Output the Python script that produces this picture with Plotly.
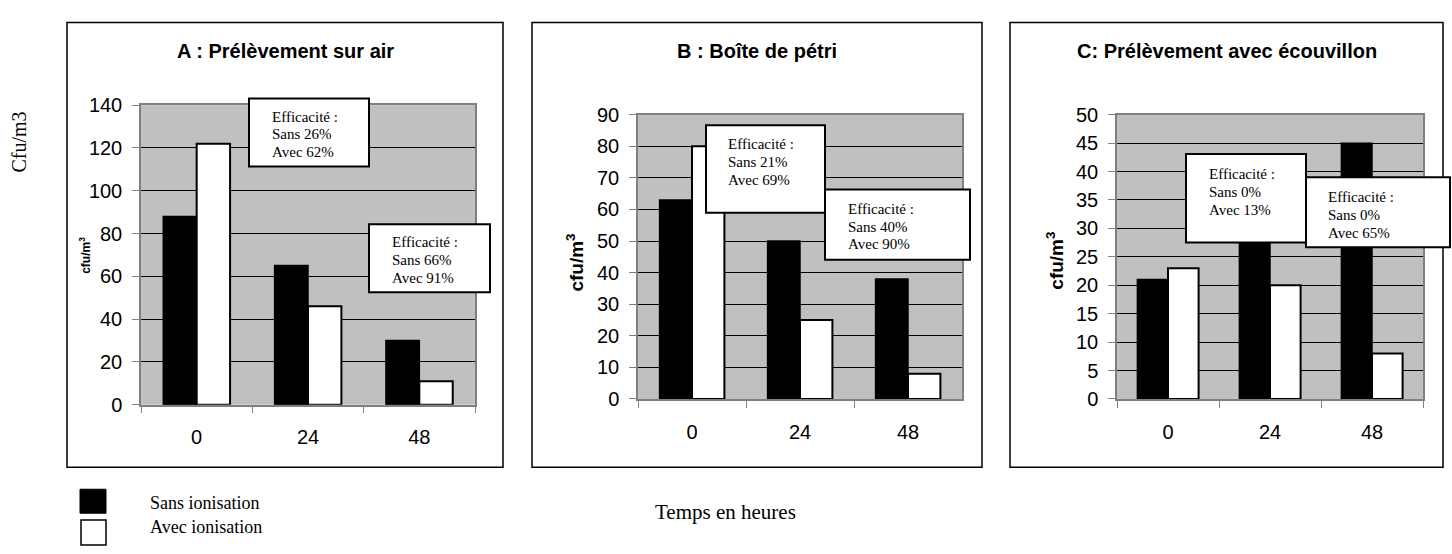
import plotly.graph_objects as go

W, H = 1452, 554

# ---- data ----
hours = ["0", "24", "48"]
titles = ["A : Prélèvement sur air", "B : Boîte de pétri", "C: Prélèvement avec écouvillon"]
sans_A = [88, 65, 30]
avec_A = [122, 46, 11]
sans_B = [63, 50, 38]
avec_B = [80, 25, 8]
sans_C = [21, 30, 45]
avec_C = [23, 20, 8]
y_max = [140, 90, 50]
y_step = [20, 10, 5]
box_texts = [
    ["Efficacité :", "Sans 26%", "Avec 62%"],
    ["Efficacité :", "Sans 66%", "Avec 91%"],
    ["Efficacité :", "Sans 21%", "Avec 69%"],
    ["Efficacité :", "Sans 40%", "Avec 90%"],
    ["Efficacité :", "Sans 0%", "Avec 13%"],
    ["Efficacité :", "Sans 0%", "Avec 65%"],
]
legend_labels = ["Sans ionisation", "Avec ionisation"]

SANS = "Liberation Sans, Arial, sans-serif"
SERIF = "Liberation Serif, Times New Roman, serif"

def px(x):
    return x / W

def py(y):
    return 1 - y / H

fig = go.Figure()

series = [(sans_A, avec_A), (sans_B, avec_B), (sans_C, avec_C)]
# plot areas in pixels: (left, right, top, bottom)
plot_px = [(141, 475, 98, 410), (638, 962, 108, 404), (1117, 1423, 108, 404)]
panel_px = [(67, 503, 12, 475), (532, 982, 12, 475), (1010, 1443, 12, 475)]
ytitle_px = [(85, 255, 12), (575, 262, 19), (1055, 260, 19)]

for i, (s, a) in enumerate(series):
    xa = "x" if i == 0 else f"x{i+1}"
    ya = "y" if i == 0 else f"y{i+1}"
    fig.add_trace(go.Bar(x=hours, y=s, name=legend_labels[0], xaxis=xa, yaxis=ya,
                         marker=dict(color="black", line=dict(color="black", width=1.5)),
                         showlegend=False))
    fig.add_trace(go.Bar(x=hours, y=a, name=legend_labels[1], xaxis=xa, yaxis=ya,
                         marker=dict(color="white", line=dict(color="black", width=2)),
                         showlegend=False))
    l, r, t, b = plot_px[i]
    xkey = "xaxis" if i == 0 else f"xaxis{i+1}"
    ykey = "yaxis" if i == 0 else f"yaxis{i+1}"
    fig.update_layout(**{
        xkey: dict(domain=[px(l), px(r)], anchor=ya, type="category",
                   tickson="boundaries", ticks="outside", ticklen=7, tickcolor="#808080",
                   showline=True, linecolor="#808080", linewidth=1.5, mirror=True,
                   showgrid=False, tickfont=dict(family=SANS, size=20, color="black"),
                   ticklabelstandoff=14),
        ykey: dict(domain=[py(b), py(t)], anchor=xa, range=[0, y_max[i]], dtick=y_step[i],
                   ticks="outside", ticklen=7, tickcolor="#808080",
                   showline=True, linecolor="#808080", linewidth=1.5, mirror=True,
                   showgrid=True, gridcolor="black", gridwidth=1, zeroline=False,
                   tickfont=dict(family=SANS, size=20, color="black"),
                   ticklabelstandoff=6),
    })

shapes = []
for (l, r, t, b) in panel_px:
    shapes.append(dict(type="rect", xref="paper", yref="paper", x0=px(l), x1=px(r),
                       y0=py(b), y1=py(t), line=dict(color="black", width=1.5)))

boxes_px = [(249, 369, 91, 162), (369, 490, 222, 293),
            (706, 825, 119, 210), (825, 970, 186, 259),
            (1186, 1306, 149, 241), (1306, 1450, 173, 246)]
text_px = [(270, 110), (390, 241), (726, 139), (846, 206), (1207, 170), (1326, 194)]

for (l, r, t, b) in boxes_px:
    shapes.append(dict(type="rect", xref="paper", yref="paper", x0=px(l), x1=px(r),
                       y0=py(b), y1=py(t), fillcolor="white",
                       line=dict(color="black", width=2), layer="above"))

# legend swatches
shapes.append(dict(type="rect", xref="paper", yref="paper", x0=px(80), x1=px(106),
                   y0=py(523), y1=py(498), fillcolor="black", line=dict(color="black", width=1)))
shapes.append(dict(type="rect", xref="paper", yref="paper", x0=px(81), x1=px(106),
                   y0=py(556), y1=py(530), fillcolor="white", line=dict(color="black", width=1.5)))

annotations = []
for i, t in enumerate(titles):
    l, r, _, _ = panel_px[i]
    annotations.append(dict(text=f"<b>{t}</b>", x=px((l + r) / 2), y=py(42), xref="paper", yref="paper",
                            showarrow=False, xanchor="center", yanchor="middle",
                            font=dict(family=SANS, size=20, color="black")))
for (x, y, fs) in ytitle_px:
    annotations.append(dict(text="<b>cfu/m<sup>3</sup></b>", x=px(x), y=py(y), xref="paper", yref="paper",
                            showarrow=False, textangle=-90, xanchor="center", yanchor="middle",
                            font=dict(family=SANS, size=fs, color="black")))
for k, lines in enumerate(box_texts):
    x0, y0 = text_px[k]
    for j, line in enumerate(lines):
        annotations.append(dict(text=line, x=px(x0), y=py(y0 + j * 18.5), xref="paper", yref="paper",
                                showarrow=False, xanchor="left", yanchor="middle",
                                font=dict(family=SERIF, size=15, color="black")))
annotations.append(dict(text="Cfu/m3", x=px(19), y=py(137), xref="paper", yref="paper",
                        showarrow=False, textangle=-90, xanchor="center", yanchor="middle",
                        font=dict(family=SERIF, size=20, color="black")))
annotations.append(dict(text="Temps en heures", x=px(725), y=py(522), xref="paper", yref="paper",
                        showarrow=False, xanchor="center", yanchor="middle",
                        font=dict(family=SERIF, size=21, color="black")))
for j, lab in enumerate(legend_labels):
    annotations.append(dict(text=lab, x=px(148), y=py(512 + j * 25), xref="paper", yref="paper",
                            showarrow=False, xanchor="left", yanchor="middle",
                            font=dict(family=SERIF, size=18, color="black")))

fig.update_layout(width=W, height=H, margin=dict(l=0, r=0, t=0, b=0),
                  paper_bgcolor="white", plot_bgcolor="#c0c0c0",
                  barmode="group", bargap=0.4, bargroupgap=0,
                  shapes=shapes, annotations=annotations, showlegend=False)

fig.write_html("out.html")
